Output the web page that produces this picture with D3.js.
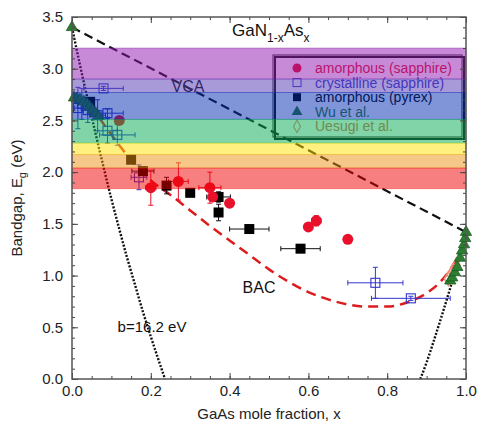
<!DOCTYPE html>
<html>
<head>
<meta charset="utf-8">
<script src="https://cdn.jsdelivr.net/npm/d3@7"></script>
<style>
  body { margin: 0; background: #fff; }
  text { font-family: "Liberation Sans", Arial, sans-serif; }
</style>
</head>
<body>
<div id="chart"></div>
<script>
// spectral bands (top edges, last value is bottom of red)
const bandEdges = [3.2, 2.9, 2.77, 2.51, 2.28, 2.17, 2.04, 1.84];
const bandColors = ["#8d15ad", "#5135b1", "#012bb1", "#01a951", "#ffe101", "#eb9115", "#f10001"];

// model lines
const vcaLine = [[0, 3.4], [1.0, 1.42]];
const bacLine = [
  [0.07, 2.52], [0.12, 2.26], [0.16, 2.07], [0.2, 1.92], [0.25, 1.78], [0.3, 1.63],
  [0.35, 1.48], [0.4, 1.34], [0.45, 1.2], [0.5, 1.06], [0.55, 0.94], [0.6, 0.84],
  [0.65, 0.77], [0.7, 0.72], [0.75, 0.7], [0.8, 0.7], [0.85, 0.74], [0.9, 0.83],
  [0.93, 0.92], [0.96, 1.06], [0.975, 1.15]
];
const bowLeft = [
  [0, 3.4], [0.02, 3.04], [0.04, 2.7], [0.06, 2.37], [0.08, 2.05], [0.1, 1.74],
  [0.12, 1.45], [0.14, 1.17], [0.16, 0.91], [0.18, 0.65], [0.2, 0.41], [0.22, 0.18], [0.236, 0]
];
const bowRight = [[0.884, 0], [0.9, 0.16], [0.92, 0.39], [0.94, 0.63], [0.96, 0.88], [0.98, 1.14], [1.0, 1.42]];

// data: [x, Eg, xErr, yErr]
const amorphSapphire = [
  [0.12, 2.5, 0, 0], [0.2, 1.85, 0.013, 0.17], [0.27, 1.91, 0.025, 0.18],
  [0.35, 1.85, 0.028, 0.15], [0.357, 1.76, 0, 0], [0.4, 1.7, 0, 0],
  [0.6, 1.47, 0, 0], [0.62, 1.53, 0.012, 0.05], [0.7, 1.35, 0, 0]
];
const crystSapphire = [
  [0.08, 2.81, 0.05, 0.02], [0.015, 2.62, 0.008, 0.2], [0.025, 2.66, 0.01, 0.15],
  [0.04, 2.6, 0.015, 0.12], [0.065, 2.55, 0.02, 0.15], [0.09, 2.57, 0.04, 0.04],
  [0.09, 2.4, 0.025, 0.12], [0.115, 2.36, 0.045, 0.1], [0.17, 1.95, 0.02, 0.12],
  [0.77, 0.93, 0.07, 0.15], [0.86, 0.78, 0.1, 0.02]
];
const amorphPyrex = [
  [0.046, 2.68, 0, 0], [0.15, 2.12, 0, 0], [0.18, 2.01, 0.028, 0],
  [0.24, 1.87, 0, 0.08], [0.3, 1.8, 0, 0], [0.372, 1.76, 0.03, 0.05],
  [0.372, 1.61, 0, 0.08], [0.45, 1.45, 0.05, 0], [0.58, 1.26, 0.05, 0]
];
const wu = [
  [0, 3.4], [0.005, 2.72], [0.012, 2.71], [0.02, 2.7], [0.03, 2.68], [0.038, 2.66],
  [0.045, 2.63], [0.052, 2.6], [0.06, 2.57], [0.068, 2.54],
  [0.96, 0.95], [0.965, 0.98], [0.972, 1.03], [0.978, 1.08], [0.985, 1.17],
  [0.99, 1.24], [0.995, 1.3], [0.998, 1.36], [1.0, 1.42]
];
const uesugi = [[0.955, 0.97], [0.962, 1.01], [0.968, 1.05], [0.975, 1.1]];

const legendLabels = ["amorphous (sapphire)", "crystalline (sapphire)", "amorphous (pyrex)", "Wu et al.", "Uesugi et al."];
const xMajor = [0, 0.2, 0.4, 0.6, 0.8, 1.0];
const yMajor = [0, 0.5, 1.0, 1.5, 2.0, 2.5, 3.0, 3.5];

const width = 481, height = 426;
const margin = { top: 17, right: 15, bottom: 47, left: 72 };
const red = "#e8102a", blue = "#3535cc", green = "#2d7d32", tan = "#e8907a";

const svg = d3.select("#chart").append("svg").attr("width", width).attr("height", height);

const x = d3.scaleLinear().domain([0, 1]).range([margin.left, width - margin.right]);
const y = d3.scaleLinear().domain([0, 3.5]).range([height - margin.bottom, margin.top]);

const line = d3.line().x((d) => x(d[0])).y((d) => y(d[1]));
const smooth = d3.line().x((d) => x(d[0])).y((d) => y(d[1])).curve(d3.curveMonotoneX);

// model curves
svg.append("path").attr("d", line(vcaLine)).attr("fill", "none")
  .attr("stroke", "#111").attr("stroke-width", 2.2).attr("stroke-dasharray", "9,5");
svg.append("path").attr("d", smooth(bowLeft)).attr("fill", "none")
  .attr("stroke", "#111").attr("stroke-width", 2.4).attr("stroke-dasharray", "2,1.6");
svg.append("path").attr("d", smooth(bowRight)).attr("fill", "none")
  .attr("stroke", "#111").attr("stroke-width", 2.4).attr("stroke-dasharray", "2,1.6");
svg.append("path").attr("d", smooth(bacLine)).attr("fill", "none")
  .attr("stroke", "#dd1c1c").attr("stroke-width", 2.5).attr("stroke-dasharray", "10,6");

// error bars
function errorBars(data, color) {
  const g = svg.append("g").attr("stroke", color).attr("stroke-width", 1);
  data.forEach((d) => {
    if (d[2] > 0) {
      g.append("line").attr("x1", x(d[0] - d[2])).attr("x2", x(d[0] + d[2])).attr("y1", y(d[1])).attr("y2", y(d[1]));
      [d[0] - d[2], d[0] + d[2]].forEach((v) =>
        g.append("line").attr("x1", x(v)).attr("x2", x(v)).attr("y1", y(d[1]) - 2.5).attr("y2", y(d[1]) + 2.5));
    }
    if (d[3] > 0) {
      g.append("line").attr("x1", x(d[0])).attr("x2", x(d[0])).attr("y1", y(d[1] - d[3])).attr("y2", y(d[1] + d[3]));
      [d[1] - d[3], d[1] + d[3]].forEach((v) =>
        g.append("line").attr("x1", x(d[0]) - 2.5).attr("x2", x(d[0]) + 2.5).attr("y1", y(v)).attr("y2", y(v)));
    }
  });
}
errorBars(crystSapphire, blue);
errorBars(amorphPyrex, "#111");
errorBars(amorphSapphire, red);

// markers
svg.append("g").selectAll("path").data(uesugi).enter().append("path")
  .attr("d", d3.symbol(d3.symbolDiamond, 55))
  .attr("transform", (d) => `translate(${x(d[0])},${y(d[1])})`)
  .attr("fill", "none").attr("stroke", tan).attr("stroke-width", 1.5);
svg.append("g").selectAll("rect").data(crystSapphire).enter().append("rect")
  .attr("x", (d) => x(d[0]) - 4.5).attr("y", (d) => y(d[1]) - 4.5)
  .attr("width", 9).attr("height", 9)
  .attr("fill", "none").attr("stroke", blue).attr("stroke-width", 1.1);
svg.append("g").selectAll("rect").data(amorphPyrex).enter().append("rect")
  .attr("x", (d) => x(d[0]) - 5).attr("y", (d) => y(d[1]) - 5)
  .attr("width", 10).attr("height", 10).attr("fill", "#000");
svg.append("g").selectAll("circle").data(amorphSapphire).enter().append("circle")
  .attr("cx", (d) => x(d[0])).attr("cy", (d) => y(d[1])).attr("r", 5.5).attr("fill", red);
svg.append("g").selectAll("path").data(wu).enter().append("path")
  .attr("d", d3.symbol(d3.symbolTriangle, 55))
  .attr("transform", (d) => `translate(${x(d[0])},${y(d[1])})`)
  .attr("fill", green).attr("stroke", "#1b5e20").attr("stroke-width", 0.8);

// annotations
svg.append("text").attr("x", 188).attr("y", 92).attr("text-anchor", "middle")
  .style("font-size", "16px").attr("fill", "#111").text("VCA");
svg.append("text").attr("x", 259).attr("y", 293).attr("text-anchor", "middle")
  .style("font-size", "16px").attr("fill", "#111").text("BAC");
svg.append("text").attr("x", 152).attr("y", 332).attr("text-anchor", "middle")
  .style("font-size", "15px").attr("fill", "#111").text("b=16.2 eV");

// legend
const lg = svg.append("g");
const lx = 273, ly = 55, lw = 189, lh = 82;
lg.append("rect").attr("x", lx + 2).attr("y", ly + 2).attr("width", lw).attr("height", lh)
  .attr("fill", "none").attr("stroke", "#111").attr("stroke-width", 2);
lg.append("rect").attr("x", lx).attr("y", ly).attr("width", lw).attr("height", lh)
  .attr("fill", "none").attr("stroke", "#222").attr("stroke-width", 1);
const legendColors = [red, blue, "#000", green, "#e06a4a"];
legendLabels.forEach((lab, i) => {
  const cy = ly + 13 + i * 14.6;
  const mx = 297;
  if (i === 0) lg.append("circle").attr("cx", mx).attr("cy", cy).attr("r", 4.5).attr("fill", red);
  if (i === 1) lg.append("rect").attr("x", mx - 4).attr("y", cy - 4).attr("width", 8).attr("height", 8)
    .attr("fill", "none").attr("stroke", blue).attr("stroke-width", 1);
  if (i === 2) lg.append("rect").attr("x", mx - 4).attr("y", cy - 4).attr("width", 8).attr("height", 8).attr("fill", "#000");
  if (i === 3) lg.append("path").attr("d", d3.symbol(d3.symbolTriangle, 50))
    .attr("transform", `translate(${mx},${cy})`).attr("fill", green);
  if (i === 4) lg.append("path").attr("d", d3.symbol(d3.symbolDiamond, 45))
    .attr("transform", `translate(${mx},${cy})`).attr("fill", "none").attr("stroke", tan).attr("stroke-width", 1.2);
  lg.append("text").attr("x", 315).attr("y", cy + 5).style("font-size", "14px")
    .attr("fill", legendColors[i]).text(lab);
});

// translucent spectral bands on top of everything
svg.append("g").selectAll("rect").data(bandColors).enter().append("rect")
  .attr("x", x(0)).attr("width", x(1) - x(0))
  .attr("y", (d, i) => y(bandEdges[i]))
  .attr("height", (d, i) => y(bandEdges[i + 1]) - y(bandEdges[i]))
  .attr("fill", (d) => d).attr("fill-opacity", 0.5)
  .attr("stroke", (d) => d).attr("stroke-opacity", 0.35).attr("stroke-width", 1);

// title
const title = svg.append("text").attr("x", 232).attr("y", 36).style("font-size", "17px").attr("fill", "#111");
title.append("tspan").text("GaN");
title.append("tspan").attr("dy", 6).style("font-size", "12px").text("1-x");
title.append("tspan").attr("dy", -6).text("As");
title.append("tspan").attr("dy", 6).style("font-size", "12px").text("x");

// axes with inward ticks
const xMinor = d3.range(0, 1.0001, 0.05).map((v) => +v.toFixed(2));
const yMinor = d3.range(0, 3.5001, 0.1).map((v) => +v.toFixed(1));
const fmt = d3.format(".1f");
const bottom = height - margin.bottom, right = width - margin.right;

function addAxis(axis, tx, ty, labels) {
  const g = svg.append("g").attr("transform", `translate(${tx},${ty})`).call(axis);
  g.select(".domain").remove();
  g.selectAll("line").attr("stroke", "#444");
  if (!labels) g.selectAll("text").remove();
  else g.selectAll("text").style("font-size", "15px").attr("fill", "#222")
    .style("font-family", "'Liberation Sans', Arial, sans-serif");
  return g;
}
addAxis(d3.axisBottom(x).tickValues(xMinor).tickSize(-3).tickFormat(""), 0, bottom, false);
addAxis(d3.axisTop(x).tickValues(xMinor).tickSize(-3).tickFormat(""), 0, margin.top, false);
addAxis(d3.axisLeft(y).tickValues(yMinor).tickSize(-3).tickFormat(""), margin.left, 0, false);
addAxis(d3.axisRight(y).tickValues(yMinor).tickSize(-3).tickFormat(""), right, 0, false);
addAxis(d3.axisBottom(x).tickValues(xMajor).tickSize(-6).tickPadding(6).tickFormat(fmt), 0, bottom, true);
addAxis(d3.axisTop(x).tickValues(xMajor).tickSize(-6).tickFormat(""), 0, margin.top, false);
addAxis(d3.axisLeft(y).tickValues(yMajor).tickSize(-6).tickPadding(9).tickFormat(fmt), margin.left, 0, true);
addAxis(d3.axisRight(y).tickValues(yMajor).tickSize(-6).tickFormat(""), right, 0, false);

svg.append("rect").attr("x", x(0)).attr("y", y(3.5)).attr("width", x(1) - x(0)).attr("height", y(0) - y(3.5))
  .attr("fill", "none").attr("stroke", "#555").attr("stroke-width", 1.5);

// axis titles
svg.append("text").attr("x", (x(0) + x(1)) / 2).attr("y", 419).attr("text-anchor", "middle")
  .style("font-size", "15px").attr("fill", "#222").text("GaAs mole fraction, x");
const yl = svg.append("text").attr("transform", `translate(22,${(y(0) + y(3.5)) / 2}) rotate(-90)`)
  .attr("text-anchor", "middle").style("font-size", "15px").attr("fill", "#222");
yl.append("tspan").text("Bandgap, E");
yl.append("tspan").attr("dy", 4).style("font-size", "11px").text("g");
yl.append("tspan").attr("dy", -4).text(" (eV)");
</script>
</body>
</html>
